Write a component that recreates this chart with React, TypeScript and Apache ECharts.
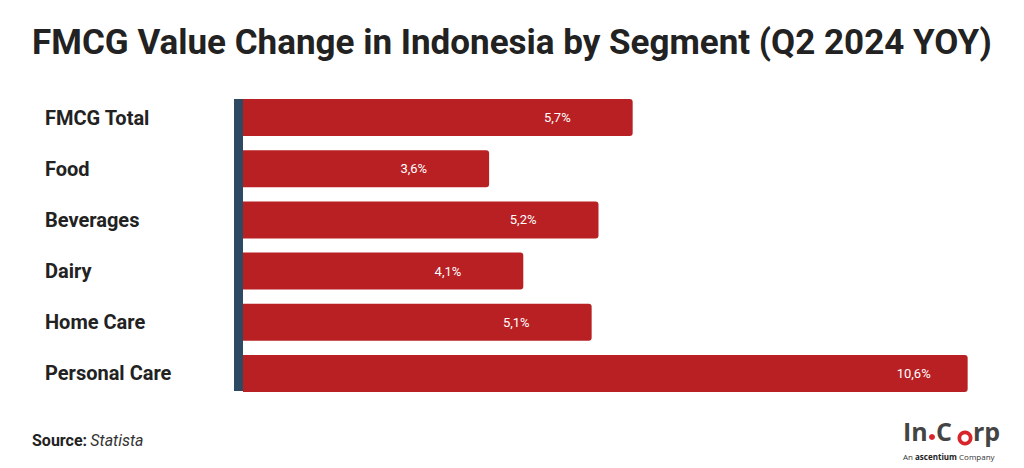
import React, { useEffect, useRef } from "react";
import * as echarts from "echarts";

const categories = ["FMCG Total", "Food", "Beverages", "Dairy", "Home Care", "Personal Care"];
const values = [5.7, 3.6, 5.2, 4.1, 5.1, 10.6];
const titleText = "FMCG Value Change in Indonesia by Segment (Q2 2024 YOY)";

export default function App() {
  const ref = useRef<HTMLDivElement>(null);
  useEffect(() => {
    if (!ref.current) return;
    const chart = echarts.init(ref.current, undefined, { renderer: "svg" });
    const maxV = Math.max(...values);
    const logoFont = { fontFamily: "Open Sans", fontWeight: "bold", fontSize: 25, fill: "#444444" };
    chart.setOption({
      animation: false,
      backgroundColor: "#ffffff",
      grid: { left: 243, right: 29, top: 92, bottom: 69 },
      xAxis: {
        type: "value",
        min: 0,
        max: 11,
        show: false,
      },
      yAxis: {
        type: "category",
        data: categories,
        inverse: true,
        axisLine: { show: false },
        axisTick: { show: false },
        axisLabel: {
          align: "left",
          margin: 198,
          fontFamily: "Roboto",
          fontWeight: "bold",
          fontSize: 20,
          color: "#222222",
        },
      },
      series: [
        {
          type: "bar",
          barWidth: 37,
          data: values.map((v) => ({
            value: v,
            label: { distance: v === maxV ? 37 : 62 },
          })),
          itemStyle: { color: "#B92024", borderRadius: [0, 3, 3, 0] },
          label: {
            show: true,
            position: "insideRight",
            color: "#ffffff",
            fontFamily: "Roboto",
            fontSize: 13,
            formatter: (p: any) => String(p.value).replace(".", ",") + "%",
          },
        },
      ],
      graphic: [
        {
          type: "text",
          left: "center",
          top: 25,
          style: {
            text: titleText,
            fontFamily: "Roboto",
            fontWeight: "bold",
            fontSize: 35,
            fill: "#222222",
          },
        },
        {
          type: "rect",
          shape: { x: 234, y: 99, width: 9, height: 292 },
          style: { fill: "#2E4A62" },
        },
        {
          type: "text",
          x: 32,
          y: 432,
          style: {
            text: "{b|Source:} {i|Statista}",
            rich: {
              b: { fontFamily: "Roboto", fontWeight: "bold", fontSize: 16, fill: "#222222" },
              i: { fontFamily: "Roboto", fontStyle: "italic", fontSize: 16, fill: "#333333" },
            },
          },
        },
        {
          type: "group",
          x: 903,
          y: 418,
          children: [
            { type: "text", x: 0, y: 0, style: { text: "In", ...logoFont } },
            { type: "circle", shape: { cx: 29, cy: 19, r: 3 }, style: { fill: "#D7262B" } },
            { type: "text", x: 33, y: 0, style: { text: "C", ...logoFont } },
            { type: "circle", shape: { cx: 62, cy: 20, r: 7.5 }, style: { fill: "#D7262B" } },
            { type: "circle", shape: { cx: 62, cy: 20, r: 3.8 }, style: { fill: "#ffffff" } },
            { type: "text", x: 70, y: 0, style: { text: "rp", ...logoFont } },
            {
              type: "text",
              x: 0,
              y: 34,
              style: {
                text: "{a|An }{b|ascentium}{a| Company}",
                rich: {
                  a: { fontFamily: "Open Sans", fontSize: 8, fill: "#333333" },
                  b: { fontFamily: "Open Sans", fontWeight: "bold", fontSize: 8, fill: "#222222" },
                },
              },
            },
          ],
        },
      ],
    });
    return () => chart.dispose();
  }, []);
  return <div ref={ref} style={{ width: 1024, height: 468, position: "absolute", left: 0, top: 0 }} />;
}
